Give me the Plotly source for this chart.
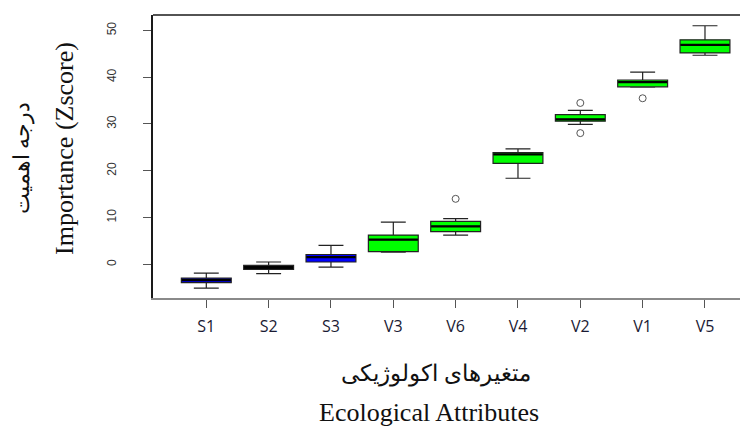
import plotly.graph_objects as go

categories = ["S1", "S2", "S3", "V3", "V6", "V4", "V2", "V1", "V5"]
lower_whisker = [-5.1, -2.0, -0.6, 2.6, 6.25, 18.4, 29.9, 37.9, 44.7]
q1 = [-3.9, -1.07, 0.5, 2.7, 7.0, 21.6, 30.6, 37.95, 45.2]
median = [-3.4, -0.65, 1.55, 5.3, 8.1, 23.5, 31.0, 38.95, 46.9]
q3 = [-2.95, -0.2, 2.1, 6.25, 9.2, 23.9, 32.0, 39.4, 48.0]
upper_whisker = [-1.9, 0.5, 4.05, 9.0, 9.75, 24.7, 32.9, 41.1, 51.0]
box_colors = ["#0000FF", "#000000", "#0000FF", "#00FF00", "#00FF00",
              "#00FF00", "#00FF00", "#00FF00", "#00FF00"]
outlier_x = ["V6", "V2", "V2", "V1"]
outlier_y = [14.0, 34.5, 28.05, 35.5]
y_ticks = [0, 10, 20, 30, 40, 50]

positions = list(range(1, len(categories) + 1))
pos_of = {c: p for c, p in zip(categories, positions)}

fig = go.Figure()
for i, c in enumerate(categories):
    fig.add_trace(go.Box(
        x=[positions[i]],
        q1=[q1[i]], median=[median[i]], q3=[q3[i]],
        lowerfence=[lower_whisker[i]], upperfence=[upper_whisker[i]],
        fillcolor=box_colors[i],
        line=dict(color="#222222", width=1.2),
        width=0.8, whiskerwidth=0.5,
        boxpoints=False, showlegend=False, hoverinfo="skip",
    ))

# thick median lines (R style)
fig.add_trace(go.Scatter(
    x=positions, y=median, mode="markers",
    marker=dict(symbol="line-ew", size=35, line=dict(color="#000000", width=2.2)),
    showlegend=False, hoverinfo="skip",
))

# outliers
fig.add_trace(go.Scatter(
    x=[pos_of[c] for c in outlier_x], y=outlier_y, mode="markers",
    marker=dict(symbol="circle-open", size=7, color="#555555", line=dict(width=1)),
    showlegend=False, hoverinfo="skip",
))

# page body adds a small margin: figure is slightly smaller than the window
fig.update_layout(
    width=740, height=418,
    margin=dict(l=145, r=0, t=7, b=128),
    plot_bgcolor="white", paper_bgcolor="white",
    xaxis=dict(
        range=[0.145, 9.69], tickmode="array", tickvals=positions, ticktext=categories,
        showgrid=False, zeroline=False, showline=True, linecolor="#8a8a8a", linewidth=1.5,
        ticks="outside", ticklen=8, tickcolor="#555555", tickwidth=1.2,
        tickfont=dict(family="Open Sans", size=16, color="#1a1a33"),
        ticklabelstandoff=5,
    ),
    yaxis=dict(
        range=[-7.2, 53.3], tickmode="array", tickvals=y_ticks,
        showgrid=False, zeroline=False, showline=True, linecolor="#1a1a1a", linewidth=1.5,
        ticks="outside", ticklen=8, tickcolor="#555555", tickwidth=1.2,
        tickangle=-90,
        tickfont=dict(family="Liberation Sans", size=12, color="#333333"),
        ticklabelstandoff=22,
    ),
    shapes=[dict(type="line", xref="paper", yref="paper", x0=0, x1=1, y0=1, y1=1,
                 line=dict(color="#1a1a1a", width=1.5))],
    annotations=[
        dict(text="متغیرهای اکولوژیکی", xref="paper", yref="paper", x=(435 - 151) / 597, y=0,
             yshift=-76, showarrow=False, yanchor="middle", xanchor="center",
             font=dict(family="Liberation Serif", size=23, color="#111111")),
        dict(text="Ecological Attributes", xref="paper", yref="paper", x=(428 - 151) / 597, y=0,
             yshift=-114, showarrow=False, yanchor="middle", xanchor="center",
             font=dict(family="Liberation Serif", size=26, color="#111111")),
        dict(text="درجه اهمیت", xref="paper", yref="paper", x=0, xshift=20 - 151,
             y=(297 - 157) / 283, showarrow=False, textangle=-90, xanchor="center", yanchor="middle",
             font=dict(family="Liberation Serif", size=22, color="#111111")),
        dict(text="Importance (Zscore)", xref="paper", yref="paper", x=0, xshift=62 - 151,
             y=(297 - 148) / 283, showarrow=False, textangle=-90, xanchor="center", yanchor="middle",
             font=dict(family="Liberation Serif", size=26, color="#111111")),
    ],
)

fig.write_html("out.html")
